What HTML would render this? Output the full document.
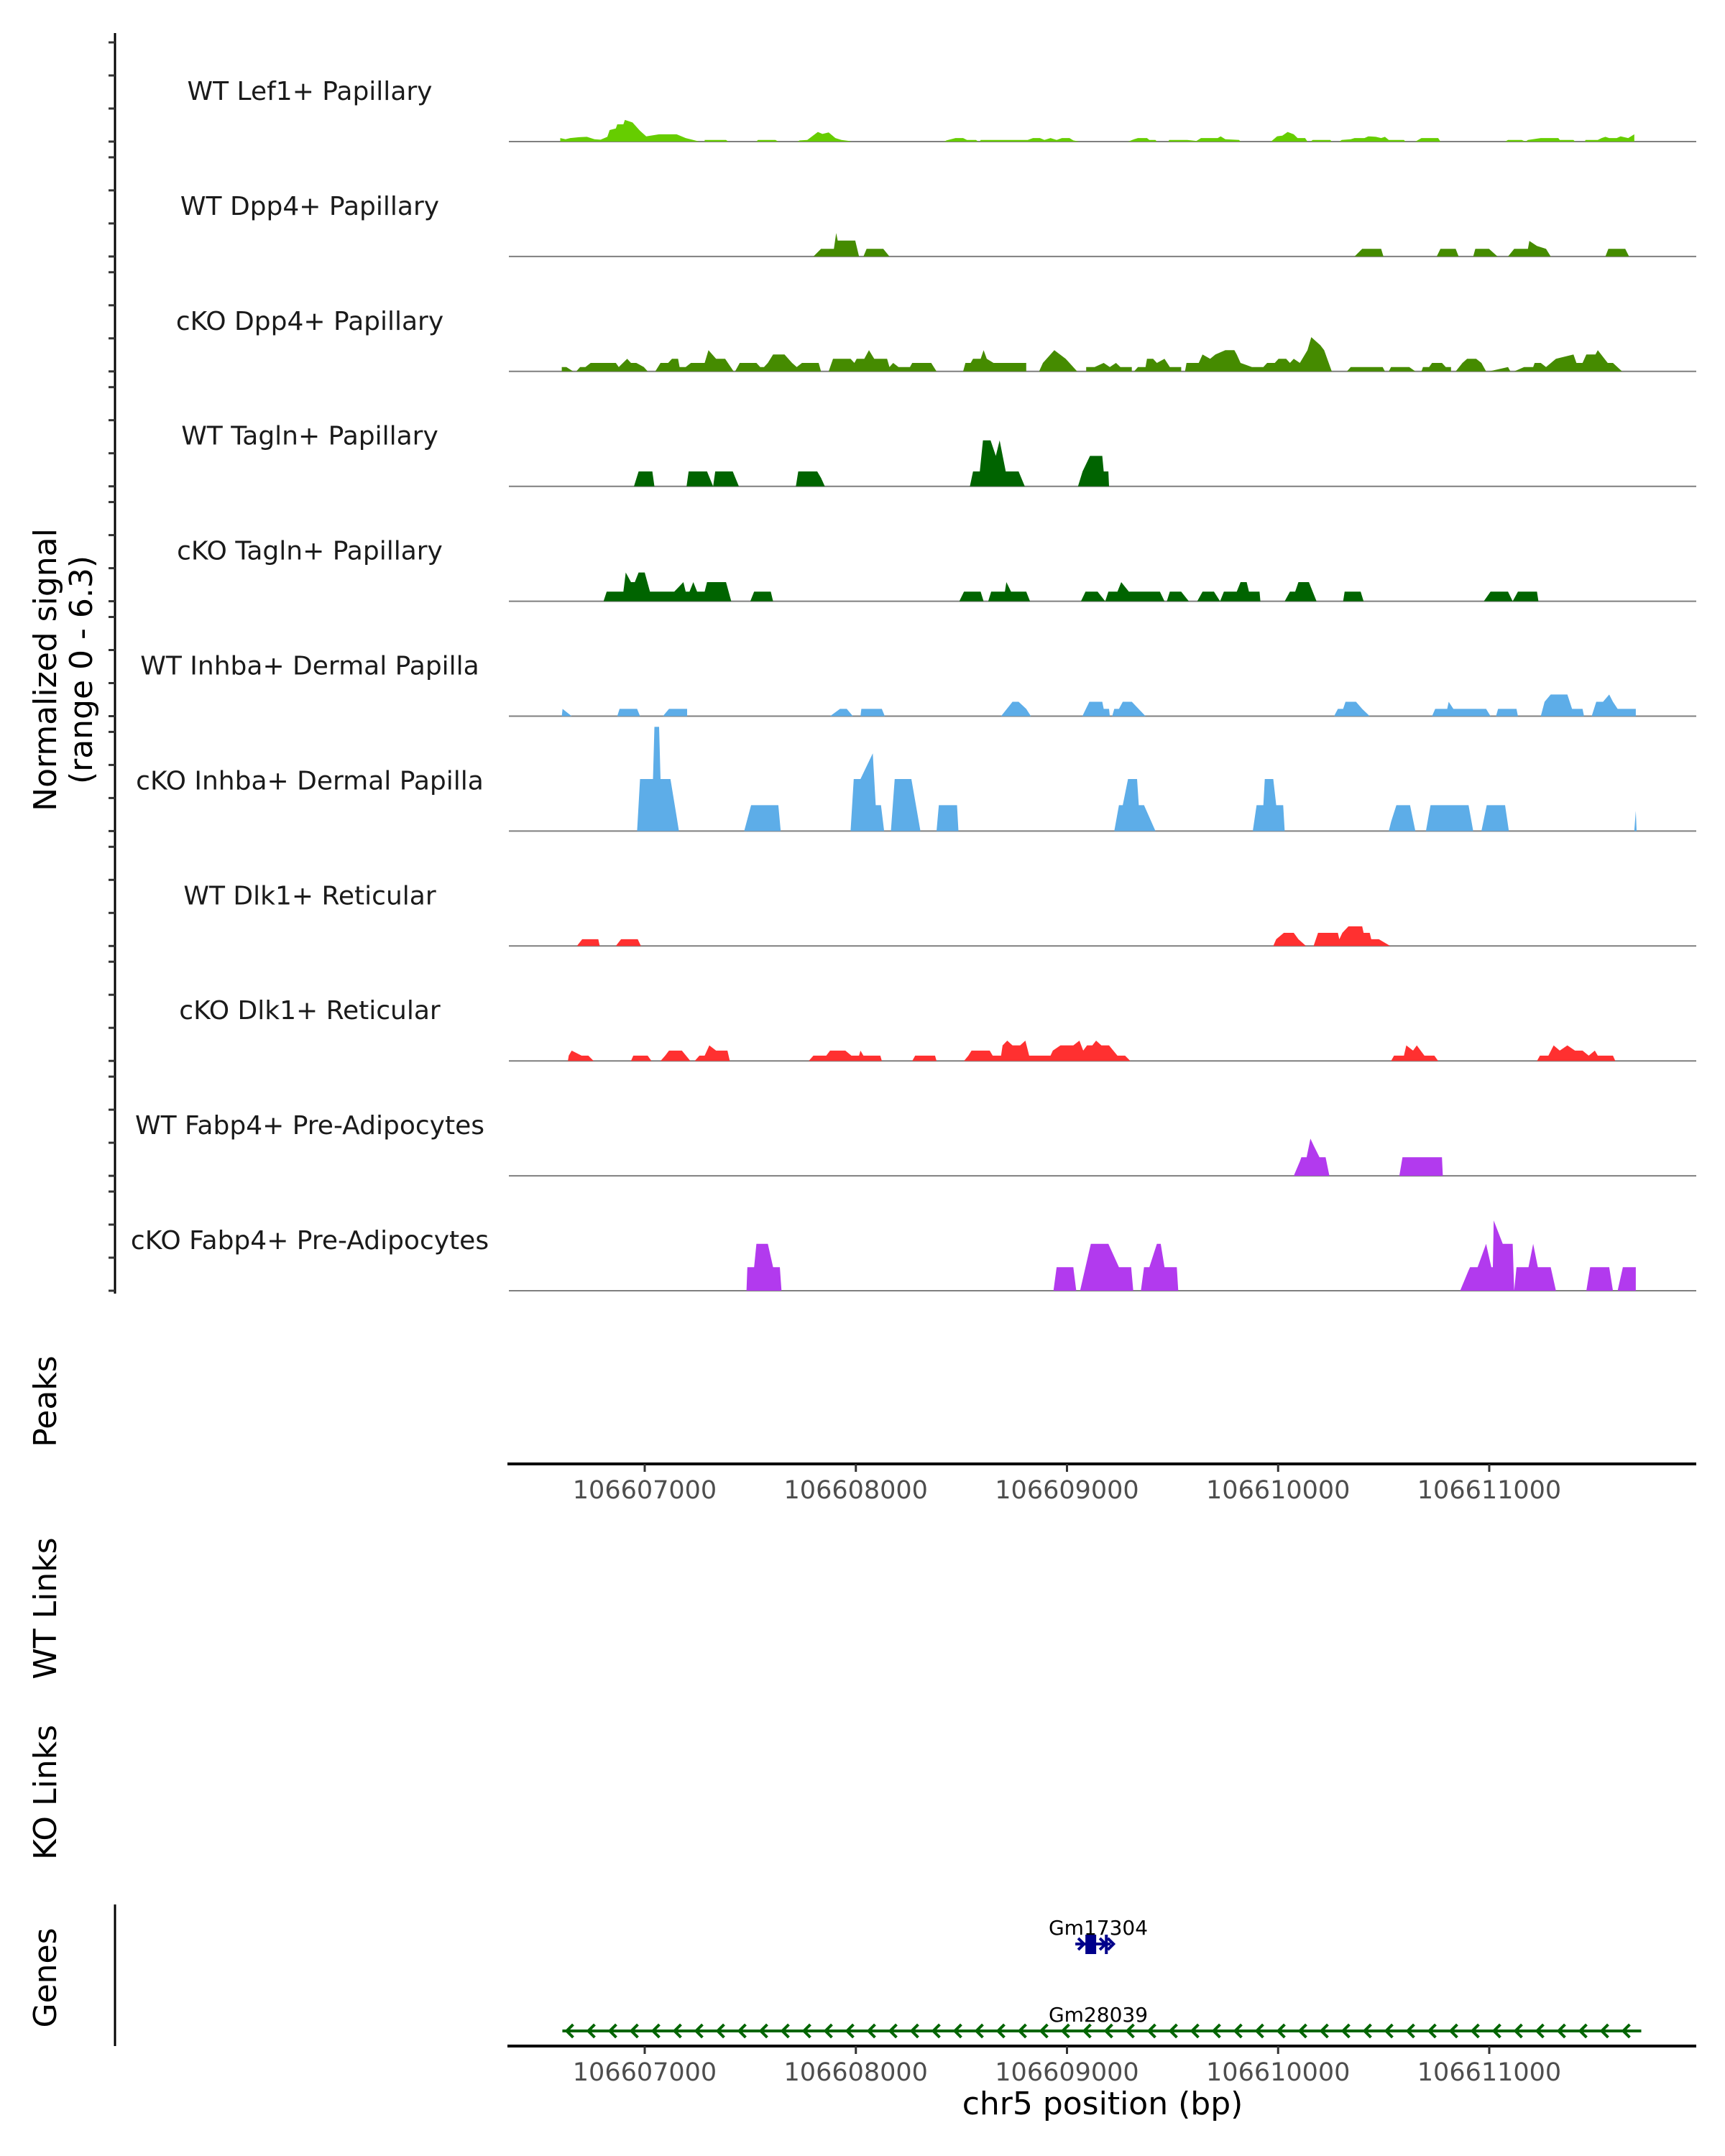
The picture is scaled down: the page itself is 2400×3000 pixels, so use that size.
<!DOCTYPE html>
<html>
<head>
<meta charset="utf-8">
<style>
  html,body{margin:0;padding:0;background:#fff;}
  svg{display:block;}
  text{font-family:"DejaVu Sans","Liberation Sans",sans-serif;}
</style>
</head>
<body>
<svg id="chart" width="2400" height="3000" viewBox="0 0 2400 3000" xmlns="http://www.w3.org/2000/svg"></svg>
<script>
// ---- data ----
const regionStart = 106606000;
const trackNames = ["WT Lef1+ Papillary","WT Dpp4+ Papillary","cKO Dpp4+ Papillary","WT Tagln+ Papillary","cKO Tagln+ Papillary","WT Inhba+ Dermal Papilla","cKO Inhba+ Dermal Papilla","WT Dlk1+ Reticular","cKO Dlk1+ Reticular","WT Fabp4+ Pre-Adipocytes","cKO Fabp4+ Pre-Adipocytes"];
const trackColors = ["#66cd00","#458b00","#458b00","#006400","#006400","#5dade8","#5dade8","#ff3030","#ff3030","#b23aee","#b23aee"];
const xTicks = [106607000,106608000,106609000,106610000,106611000];
const xTickLabels = ["106607000","106608000","106609000","106610000","106611000"];
// coverage points: [bp offset from regionStart, normalized signal]
const wtLef1 = [[600,0],[600,.21],[625,.14],[647,.21],[690,.26],[726,.28],[762,.14],[791,.11],[823,.28],[834,.68],[863,.78],[870,1.02],[899,1.02],[906,1.28],[942,1.13],[978,.64],[1007,.31],[1068,.43],[1151,.43],[1194,.21],[1248,.04],[1259,0],[1284,0],[1284,.1],[1385,.1],[1396,0],[1529,0],[1536,.1],[1619,.1],[1633,0],[1723,0],[1734,.07],[1770,.1],[1820,.57],[1842,.45],[1871,.54],[1903,.21],[1932,.1],[1968,.04],[1979,0],[2418,0],[2429,.07],[2472,.21],[2508,.21],[2526,.1],[2569,.1],[2580,0],[2587,0],[2591,.1],[2814,.1],[2839,.21],[2872,.21],[2893,.1],[2922,.21],[2951,.1],[2976,.21],[3012,.21],[3030,.07],[3059,0],[3289,0],[3318,.14],[3336,.21],[3379,.21],[3390,.1],[3419,.1],[3426,0],[3480,0],[3484,.1],[3570,.1],[3613,.04],[3635,.21],[3714,.21],[3728,.31],[3750,.14],[3815,.1],[3822,0],[3966,0],[3995,.31],[4020,.35],[4045,.57],[4074,.43],[4092,.21],[4128,.21],[4139,0],[4153,0],[4164,.1],[4247,.1],[4254,0],[4290,0],[4301,.1],[4344,.14],[4362,.21],[4409,.21],[4427,.31],[4463,.28],[4488,.21],[4506,.28],[4524,.1],[4596,.1],[4603,0],[4650,0],[4679,.21],[4758,.21],[4769,0],[5075,0],[5089,.1],[5154,.1],[5172,0],[5183,.1],[5244,.21],[5327,.21],[5334,.1],[5399,.1],[5406,0],[5453,0],[5456,.1],[5514,.1],[5532,.21],[5550,.28],[5568,.21],[5604,.21],[5622,.31],[5658,.21],[5687,.43],[5687,0]];
const wtDpp4 = [[1799,0],[1835,.45],[1896,.45],[1907,1.39],[1914,.94],[1997,.94],[2015,0],[2036,0],[2051,.45],[2130,.45],[2159,0],[4362,0],[4398,.45],[4488,.45],[4499,0],[4751,0],[4769,.45],[4841,.45],[4855,0],[4924,0],[4934,.45],[4999,.45],[5039,0],[5089,0],[5118,.45],[5183,.45],[5190,.92],[5226,.62],[5269,.45],[5291,0],[5550,0],[5564,.45],[5644,.45],[5662,0]];
const koDpp4 = [[607,0],[607,.26],[629,.26],[661,0],[676,0],[694,.26],[719,.26],[744,.5],[863,.5],[877,.26],[917,.75],[935,.5],[960,.5],[996,.26],[1014,0],[1050,0],[1075,.5],[1111,.5],[1129,.75],[1158,.75],[1165,.26],[1194,.26],[1219,.5],[1284,.5],[1302,1.26],[1338,.75],[1381,.75],[1421,0],[1428,0],[1450,.5],[1529,.5],[1547,.26],[1565,.26],[1583,.5],[1608,1.0],[1662,1.0],[1698,.5],[1720,.26],[1745,.5],[1824,.5],[1835,0],[1871,0],[1892,.75],[1975,.75],[1993,.5],[2004,.75],[2040,.75],[2062,1.26],[2087,.75],[2148,.75],[2159,.26],[2177,.5],[2202,.26],[2256,.26],[2267,.5],[2357,.5],[2382,0],[2508,0],[2519,.5],[2544,.5],[2555,.75],[2591,.75],[2605,1.26],[2620,.75],[2652,.5],[2807,.5],[2807,0],[2868,0],[2886,.5],[2940,1.26],[2994,.75],[3012,.5],[3048,0],[3091,0],[3091,.26],[3131,.26],[3174,.5],[3203,.26],[3232,.5],[3253,.26],[3307,.26],[3307,0],[3318,0],[3336,.26],[3372,.26],[3379,.75],[3408,.75],[3426,.5],[3462,.75],[3487,.26],[3541,.26],[3541,0],[3559,0],[3566,.5],[3624,.5],[3642,1.0],[3678,.75],[3703,1.0],[3750,1.26],[3793,1.26],[3804,1.0],[3822,.5],[3876,.26],[3930,.26],[3948,.5],[3984,.5],[4002,.75],[4038,.75],[4056,.5],[4074,.75],[4103,.5],[4139,1.26],[4157,2.03],[4200,1.55],[4218,1.26],[4254,0],[4326,0],[4344,.26],[4495,.26],[4506,0],[4524,0],[4535,.26],[4621,.26],[4650,0],[4679,0],[4686,.26],[4715,.26],[4729,.5],[4776,.5],[4794,.26],[4819,.26],[4819,0],[4841,0],[4873,.5],[4895,.75],[4938,.75],[4963,.5],[4985,0],[4999,0],[5089,.26],[5100,0],[5118,0],[5165,.26],[5208,.26],[5215,.5],[5244,.5],[5269,.26],[5316,.75],[5399,1.0],[5413,.5],[5442,.5],[5460,1.0],[5503,1.0],[5514,1.26],[5561,.5],[5586,.5],[5629,0]];
const wtTagln = [[949,0],[971,.88],[1036,.88],[1046,0],[1198,0],[1208,.88],[1295,.88],[1324,0],[1334,.88],[1417,.88],[1446,0],[1716,0],[1727,.88],[1817,.88],[1835,.5],[1853,0],[2540,0],[2555,.88],[2587,.88],[2602,2.72],[2638,2.72],[2663,1.8],[2681,2.72],[2710,.88],[2771,.88],[2800,0],[3052,0],[3074,.88],[3109,1.8],[3167,1.8],[3174,.88],[3196,.88],[3199,0]];
const koTagln = [[805,0],[820,.57],[899,.57],[910,1.7],[935,1.13],[953,1.13],[971,1.7],[1000,1.7],[1025,.57],[1140,.57],[1183,1.13],[1194,.57],[1212,.57],[1230,1.13],[1248,.57],[1284,.57],[1295,1.13],[1385,1.13],[1410,0],[1500,0],[1518,.57],[1597,.57],[1608,0],[2490,0],[2512,.57],[2591,.57],[2605,0],[2627,0],[2641,.57],[2706,.57],[2713,1.13],[2735,.57],[2807,.57],[2825,0],[3066,0],[3088,.57],[3145,.57],[3181,0],[3196,.57],[3239,.57],[3257,1.13],[3293,.57],[3440,.57],[3462,0],[3473,0],[3487,.57],[3541,.57],[3577,0],[3617,0],[3642,.57],[3696,.57],[3725,0],[3743,.57],[3804,.57],[3822,1.13],[3851,1.13],[3862,.57],[3912,.57],[3916,0],[4031,0],[4056,.57],[4081,.57],[4096,1.13],[4146,1.13],[4182,0],[4308,0],[4315,.57],[4391,.57],[4405,0],[4974,0],[5006,.57],[5089,.57],[5111,0],[5136,.57],[5226,.57],[5233,0]];
const wtInhba = [[607,0],[611,.43],[654,0],[870,0],[881,.43],[964,.43],[978,0],[1086,0],[1115,.43],[1201,.43],[1201,0],[1878,0],[1925,.43],[1957,.43],[1986,0],[2022,0],[2026,.43],[2123,.43],[2137,0],[2688,0],[2742,.85],[2771,.85],[2807,.43],[2829,0],[3073,0],[3106,.85],[3167,.85],[3174,.43],[3199,.43],[3203,0],[3214,0],[3224,.43],[3246,.43],[3264,.85],[3307,.85],[3372,0],[4265,0],[4283,.43],[4308,.43],[4319,.85],[4369,.85],[4398,.43],[4434,0],[4729,0],[4744,.43],[4801,.43],[4808,.85],[4830,.43],[4985,.43],[5006,0],[5032,0],[5042,.43],[5129,.43],[5136,0],[5244,0],[5262,.85],[5291,1.28],[5370,1.28],[5392,.43],[5442,.43],[5449,0],[5485,0],[5507,.85],[5539,.85],[5568,1.28],[5586,.85],[5608,.43],[5694,.43],[5694,0]];
const koInhba = [[964,0],[978,3.08],[1039,3.08],[1046,6.17],[1068,6.17],[1075,3.08],[1122,3.08],[1151,.85],[1162,0],[1471,0],[1504,1.53],[1633,1.53],[1644,0],[1975,0],[1990,3.08],[2022,3.08],[2080,4.6],[2094,1.53],[2119,1.53],[2134,0],[2166,0],[2184,3.08],[2263,3.08],[2306,0],[2382,0],[2393,1.53],[2479,1.53],[2486,0],[3224,0],[3246,1.53],[3264,1.53],[3289,3.08],[3332,3.08],[3340,1.53],[3365,1.53],[3419,0],[3880,0],[3898,1.53],[3930,1.53],[3937,3.08],[3977,3.08],[3991,1.53],[4024,1.53],[4031,0],[4524,0],[4535,.55],[4560,1.53],[4625,1.53],[4650,0],[4700,0],[4722,1.53],[4902,1.53],[4924,0],[4963,0],[4988,1.53],[5075,1.53],[5093,0],[5687,0],[5694,1.2],[5698,0]];
const wtDlk1 = [[679,0],[704,.4],[780,.4],[787,0],[863,0],[888,.4],[967,.4],[982,0],[3977,0],[3991,.4],[4027,.78],[4074,.78],[4096,.4],[4132,0],[4168,0],[4189,.78],[4283,.78],[4290,.4],[4304,.78],[4333,1.16],[4398,1.16],[4405,.78],[4434,.78],[4441,.4],[4477,.4],[4531,0]];
const koDlk1 = [[636,0],[640,.31],[654,.61],[701,.31],[733,.31],[758,0],[935,0],[946,.31],[1014,.31],[1032,0],[1075,0],[1097,.31],[1115,.61],[1176,.61],[1216,0],[1237,0],[1259,.31],[1284,.31],[1306,.92],[1338,.61],[1392,.61],[1403,0],[1777,0],[1799,.31],[1860,.31],[1878,.61],[1950,.61],[1979,.31],[2015,.31],[2022,.61],[2036,.31],[2116,.31],[2123,0],[2267,0],[2281,.31],[2375,.31],[2382,0],[2512,0],[2533,.31],[2548,.61],[2634,.61],[2648,.31],[2688,.31],[2695,.92],[2717,1.2],[2742,.92],[2778,.92],[2803,1.2],[2821,.31],[2922,.31],[2933,.61],[2969,.92],[3030,.92],[3059,1.2],[3077,.61],[3095,.92],[3120,.92],[3138,1.2],[3163,.92],[3199,.92],[3239,.31],[3275,.31],[3300,0],[4535,0],[4549,.31],[4596,.31],[4607,.92],[4639,.61],[4657,.92],[4693,.31],[4740,.31],[4758,0],[5226,0],[5240,.31],[5280,.31],[5305,.92],[5334,.61],[5370,.92],[5406,.61],[5442,.61],[5471,.31],[5500,.61],[5514,.31],[5586,.31],[5597,0]];
const wtFabp4 = [[4074,0],[4103,.85],[4110,1.1],[4135,1.1],[4153,2.2],[4168,1.8],[4196,1.1],[4225,1.1],[4243,0],[4574,0],[4589,1.1],[4776,1.1],[4780,0]];
const koFabp4 = [[1482,0],[1486,1.39],[1518,1.39],[1529,2.78],[1583,2.78],[1608,1.39],[1640,1.39],[1648,0],[2936,0],[2951,1.39],[3030,1.39],[3044,0],[3062,0],[3113,2.78],[3196,2.78],[3246,1.39],[3304,1.39],[3314,0],[3350,0],[3365,1.39],[3390,1.39],[3426,2.78],[3444,2.78],[3462,1.39],[3520,1.39],[3527,0],[4862,0],[4902,1.2],[4909,1.39],[4945,1.39],[4985,2.78],[5010,1.39],[5017,1.39],[5021,4.16],[5064,2.78],[5111,2.78],[5118,0],[5129,1.39],[5186,1.39],[5208,2.78],[5230,1.39],[5291,1.39],[5316,0],[5460,0],[5478,1.39],[5568,1.39],[5586,0],[5608,0],[5633,1.39],[5694,1.39],[5694,0]];
const trackData = [wtLef1,wtDpp4,koDpp4,wtTagln,koTagln,wtInhba,koInhba,wtDlk1,koDlk1,wtFabp4,koFabp4];
const trackSlugs = ["wt-lef1","wt-dpp4","cko-dpp4","wt-tagln","cko-tagln","wt-inhba","cko-inhba","wt-dlk1","cko-dlk1","wt-fabp4","cko-fabp4"];
const gene1 = {name:"Gm17304", start:106609060, end:106609200};
const gene2 = {name:"Gm28039", start:106606610, end:106611720};

// ---- scales ----
const NS = "http://www.w3.org/2000/svg";
const svg = document.getElementById('chart');
function xS(bp){ return 897 + (bp - 106607000) * 0.29375; }
function base(i){ return 197 + i * 159.9; }
function yS(i, v){ return base(i) - v * 23.5; }
function mk(tag, attrs, parent){
  const e = document.createElementNS(NS, tag);
  for (const k in attrs) e.setAttribute(k, attrs[k]);
  (parent || svg).appendChild(e);
  return e;
}
function txt(s, attrs, parent){ const t = mk('text', attrs, parent); t.textContent = s; return t; }

let el = mk('line',{x1:160,y1:46,x2:160,y2:1800,stroke:'#000','stroke-width':3});



for (let i = 0; i < trackNames.length; i++){
  const g = mk('g',{});
  
  
  for (const d of [0,46,92,138]){
    const tk = mk('line',{x1:151,x2:160,y1:base(i)-d,y2:base(i)-d,stroke:'#333','stroke-width':3},g);
    
    
  }
  const bl = mk('line',{x1:708,x2:2360,y1:base(i),y2:base(i),stroke:'#7f7f7f','stroke-width':2},g);
  
  
  const pts = trackData[i];
  let d = 'M' + xS(regionStart + pts[0][0]).toFixed(1) + ',' + base(i).toFixed(1);
  for (const p of pts) d += 'L' + xS(regionStart + p[0]).toFixed(1) + ',' + yS(i, p[1]).toFixed(1);
  d += 'L' + xS(regionStart + pts[pts.length-1][0]).toFixed(1) + ',' + base(i).toFixed(1) + 'Z';
  const area = mk('path',{d:d, fill:trackColors[i]},g);
  
  
  const lb = txt(trackNames[i],{x:431,y:base(i)-58,'text-anchor':'middle','font-size':36,fill:'#1a1a1a'},g);
  
  
}

function vtitle(lines, cx, cy, name){
  const t = mk('text',{transform:'translate('+cx+','+cy+') rotate(-90)','text-anchor':'middle','font-size':44,fill:'#000'});
  
  
  lines.forEach((s,k)=>{ const ts = mk('tspan',{x:0,dy:k===0?0:50},t); ts.textContent = s; });
  return t;
}
vtitle(["Normalized signal","(range 0 - 6.3)"], 78, 932, 'y-axis-title');
vtitle(["Peaks"], 78, 1950, 'peaks-title');
vtitle(["WT Links"], 78, 2238, 'wt-links-title');
vtitle(["KO Links"], 78, 2494, 'ko-links-title');
vtitle(["Genes"], 78, 2752, 'genes-title');

function xAxis(y, name){
  const g = mk('g',{});
  
  
  mk('line',{x1:706,x2:2360,y1:y,y2:y,stroke:'#000','stroke-width':4},g);
  xTicks.forEach((t,k)=>{
    mk('line',{x1:xS(t),x2:xS(t),y1:y,y2:y+11,stroke:'#333','stroke-width':3},g);
    const l = txt(xTickLabels[k],{x:xS(t),y:y+48,'text-anchor':'middle','font-size':35,fill:'#4d4d4d'},g);
    
    
  });
}
xAxis(2037,'peaks-x-axis');
xAxis(2847,'genes-x-axis');

el = txt('chr5 position (bp)',{x:1534,y:2942,'text-anchor':'middle','font-size':44,fill:'#000'});



el = mk('line',{x1:160,y1:2650,x2:160,y2:2847,stroke:'#000','stroke-width':3});



const g1 = mk('g',{});


const g1x1 = xS(gene1.start), g1x2 = xS(gene1.end);
mk('line',{x1:g1x1-6,x2:g1x2+2,y1:2705,y2:2705,stroke:'#00008b','stroke-width':4},g1);
mk('rect',{x:g1x1+8,y:2692,width:15,height:27,fill:'#00008b'},g1);
mk('rect',{x:g1x2-6,y:2692,width:4,height:27,fill:'#00008b'},g1);
mk('polyline',{points:(g1x1-2)+',2697 '+(g1x1+6)+',2705 '+(g1x1-2)+',2713',fill:'none',stroke:'#00008b','stroke-width':4},g1);
mk('polyline',{points:(g1x1+28)+',2697 '+(g1x1+36)+',2705 '+(g1x1+28)+',2713',fill:'none',stroke:'#00008b','stroke-width':4},g1);
mk('polyline',{points:(g1x2-2)+',2697 '+(g1x2+6)+',2705 '+(g1x2-2)+',2713',fill:'none',stroke:'#00008b','stroke-width':4},g1);
el = txt(gene1.name,{x:1528,y:2692,'text-anchor':'middle','font-size':28,fill:'#000'},g1);



const g2 = mk('g',{});


const g2x1 = xS(gene2.start), g2x2 = xS(gene2.end);
mk('line',{x1:g2x1,x2:g2x2,y1:2826,y2:2826,stroke:'#006400','stroke-width':4},g2);
for (let cx = g2x1 + 6; cx < g2x2 - 4; cx += 30){
  mk('polyline',{points:(cx+9)+',2817 '+cx+',2826 '+(cx+9)+',2835',fill:'none',stroke:'#006400','stroke-width':4},g2);
}
el = txt(gene2.name,{x:1528,y:2813,'text-anchor':'middle','font-size':28,fill:'#000'},g2);


</script>
</body>
</html>
